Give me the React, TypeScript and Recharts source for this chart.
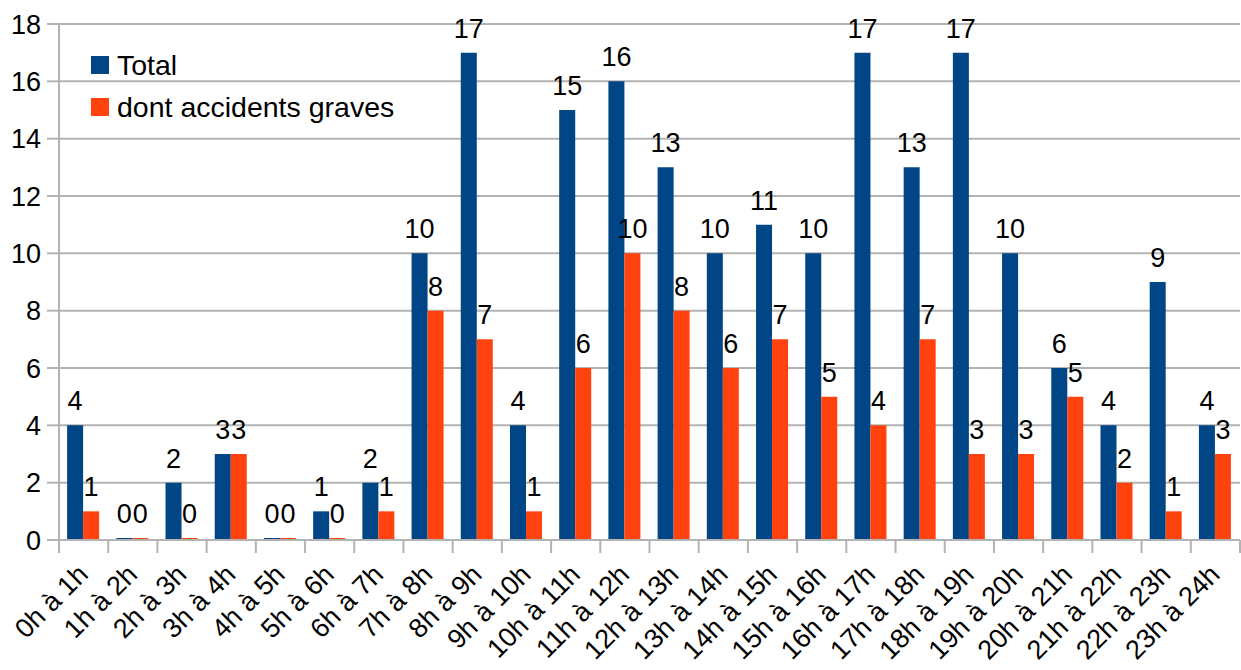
import React from 'react';
import { BarChart, Bar, XAxis, YAxis, CartesianGrid, LabelList } from 'recharts';

const categories = ['0h à 1h','1h à 2h','2h à 3h','3h à 4h','4h à 5h','5h à 6h','6h à 7h','7h à 8h','8h à 9h','9h à 10h','10h à 11h','11h à 12h','12h à 13h','13h à 14h','14h à 15h','15h à 16h','16h à 17h','17h à 18h','18h à 19h','19h à 20h','20h à 21h','21h à 22h','22h à 23h','23h à 24h'];
const total = [4,0,2,3,0,1,2,10,17,4,15,16,13,10,11,10,17,13,17,10,6,4,9,4];
const graves = [1,0,0,3,0,0,1,8,7,1,6,10,8,6,7,5,4,7,3,3,5,2,1,3];
const yTicks = [0,2,4,6,8,10,12,14,16,18];
const seriesNames = ['Total', 'dont accidents graves'];
const colors = ['#004586', '#ff420e'];

const data = categories.map((c, i) => ({ cat: c, total: total[i], graves: graves[i] }));

const FONT = '"Liberation Sans", Arial, sans-serif';
const W = 1241;
const H = 670;
const LEFT = 59;
const RIGHT = 1;
const GRID = '#b3b3b3';

const XTick = (props: any) => {
  const { x, y, payload, index } = props;
  const half = payload && payload.offset ? payload.offset : (W - LEFT - RIGHT) / categories.length / 2;
  const n = categories.length;
  const tx = x + 6;
  const ty = y + 28;
  return (
    <g>
      <line x1={x - half} y1={y - 8} x2={x - half} y2={y + 5} stroke={GRID} strokeWidth={2} />
      {index === n - 1 ? (
        <line x1={x + half} y1={y - 8} x2={x + half} y2={y + 5} stroke={GRID} strokeWidth={2} />
      ) : null}
      <text
        x={tx}
        y={ty}
        textAnchor="end"
        fontSize={27}
        fontFamily={FONT}
        fill="#000"
        transform={`rotate(-45 ${tx} ${ty})`}
      >
        {payload.value}
      </text>
    </g>
  );
};

export default function App() {
  return (
    <div style={{ position: 'absolute', left: 0, top: 0, background: '#fff', width: W, height: H }}>
      <BarChart
        width={W}
        height={H}
        data={data}
        margin={{ top: 24, right: RIGHT, left: 0, bottom: 0 }}
        barCategoryGap="16.5%"
        barGap={0}
      >
        <CartesianGrid vertical={false} stroke={GRID} strokeWidth={2} />
        <XAxis
          dataKey="cat"
          interval={0}
          height={130}
          axisLine={{ stroke: GRID, strokeWidth: 2 }}
          tickLine={false}
          tick={<XTick />}
        />
        <YAxis
          domain={[0, 18]}
          ticks={yTicks}
          width={LEFT}
          interval={0}
          axisLine={{ stroke: GRID, strokeWidth: 2 }}
          tickLine={{ stroke: GRID, strokeWidth: 2 }}
          tickSize={12}
          tickMargin={6}
          tick={{ fontSize: 27, fontFamily: FONT, fill: '#000' }}
        />
        <Bar dataKey="total" name={seriesNames[0]} fill={colors[0]} isAnimationActive={false} minPointSize={2}>
          <LabelList dataKey="total" position="top" offset={15} fontSize={27} fontFamily={FONT} fill="#000" />
        </Bar>
        <Bar dataKey="graves" name={seriesNames[1]} fill={colors[1]} isAnimationActive={false} minPointSize={2}>
          <LabelList dataKey="graves" position="top" offset={15} fontSize={27} fontFamily={FONT} fill="#000" />
        </Bar>
      </BarChart>
      <div style={{ position: 'absolute', left: 91, top: 44, fontFamily: FONT, fontSize: 28.5, color: '#000', lineHeight: '42px' }}>
        {seriesNames.map((n, i) => (
          <div key={n} style={{ display: 'flex', alignItems: 'center', height: 42 }}>
            <span style={{ display: 'inline-block', width: 18, height: 18, background: colors[i], marginRight: 8 }} />
            <span>{n}</span>
          </div>
        ))}
      </div>
    </div>
  );
}
